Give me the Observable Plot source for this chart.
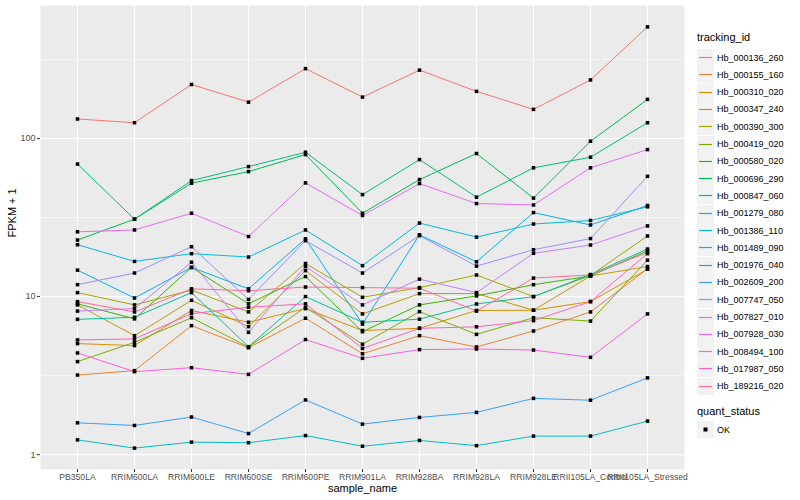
<!DOCTYPE html>
<html>
<head>
<meta charset="utf-8">
<script src="https://cdn.jsdelivr.net/npm/d3@7"></script>
<script src="https://cdn.jsdelivr.net/npm/@observablehq/plot@0.6"></script>
<style>
  html, body { margin: 0; padding: 0; background: #fff; }
  #wrap { position: relative; width: 800px; height: 500px; font-family: "Liberation Sans", Arial, sans-serif; }
  #legend { position: absolute; left: 697px; top: 0; font-size: 9px; color: #000; }
  .ltitle { position: absolute; left: 0; font-size: 11px; white-space: nowrap; }
  .lrow { position: absolute; left: 0; height: 17px; display: flex; align-items: center; white-space: nowrap; }
  .lrow svg { display: block; margin-right: 3px; }
</style>
</head>
<body>
<div id="wrap"><div id="chart"></div><div id="legend"></div></div>
<script>
const samples = ["PB350LA","RRIM600LA","RRIM600LE","RRIM600SE","RRIM600PE","RRIM901LA","RRIM928BA","RRIM928LA","RRIM928LE","RRII105LA_Control","RRII105LA_Stressed"];
const trackingIds = ["Hb_000136_260","Hb_000155_160","Hb_000310_020","Hb_000347_240","Hb_000390_300","Hb_000419_020","Hb_000580_020","Hb_000696_290","Hb_000847_060","Hb_001279_080","Hb_001386_110","Hb_001489_090","Hb_001976_040","Hb_002609_200","Hb_007747_050","Hb_007827_010","Hb_007928_030","Hb_008494_100","Hb_017987_050","Hb_189216_020"];

// FPKM + 1 per sample, one array per tracking_id
const Hb_000136_260 = [133,126,220,170,277,183,271,199,153,235,509];
const Hb_000155_160 = [3.19,3.4,6.55,4.75,7.3,4.35,5.66,4.8,6.06,8.0,15.0];
const Hb_000310_020 = [5.04,4.9,8.17,6.88,8.4,6.1,6.3,8.17,8.2,9.3,14.9];
const Hb_000347_240 = [8.86,5.66,9.47,6.46,14.6,7.77,10.45,10.45,8.2,13.5,15.5];
const Hb_000390_300 = [10.6,8.86,11.0,8.0,16.2,9.9,11.4,13.7,10.0,13.6,24.2];
const Hb_000419_020 = [3.88,5.14,7.35,4.8,8.56,5.0,8.03,5.77,7.35,7.0,17.0];
const Hb_000580_020 = [9.0,7.23,15.3,9.0,13.4,6.0,8.86,10.1,11.9,13.5,19.5];
const Hb_000696_290 = [22.8,30.9,52.2,61.8,79.2,33.7,55,80.4,42,96.2,177];
const Hb_000847_060 = [69,30.9,54.2,66.5,81.9,44.2,73.6,42.6,65.3,76.2,126];
const Hb_001279_080 = [7.18,7.4,10.6,4.82,10.0,6.88,7.2,8.98,10.0,13.8,20.0];
const Hb_001386_110 = [1.24,1.10,1.20,1.19,1.32,1.13,1.23,1.14,1.31,1.31,1.63];
const Hb_001489_090 = [21.3,16.7,18.7,17.8,26.4,15.7,29.2,23.8,28.8,30.3,37.0];
const Hb_001976_040 = [14.7,9.8,15.3,11.2,23.2,6.7,24.6,16.6,34.0,28.4,37.7];
const Hb_002609_200 = [1.59,1.53,1.73,1.36,2.22,1.56,1.72,1.85,2.27,2.21,3.06];
const Hb_007747_050 = [11.9,14.1,20.7,9.6,22.6,14.1,24.3,15.6,19.8,23.3,57.7];
const Hb_007827_010 = [8.1,8.4,16.5,5.94,15.5,8.86,12.9,10.6,18.8,21.2,28.0];
const Hb_007928_030 = [25.7,26.4,33.7,24.0,52.4,32.6,51.9,38.8,38.0,65.3,85.2];
const Hb_008494_100 = [4.4,3.35,3.55,3.22,5.35,4.07,4.62,4.66,4.59,4.13,7.77];
const Hb_017987_050 = [5.32,5.4,7.8,8.56,9.0,4.7,6.3,6.44,7.05,9.3,18.7];
const Hb_189216_020 = [9.3,8.0,11.2,10.9,11.5,11.4,11.3,8.1,13.1,13.7,19.0];

const seriesValues = [Hb_000136_260,Hb_000155_160,Hb_000310_020,Hb_000347_240,Hb_000390_300,Hb_000419_020,Hb_000580_020,Hb_000696_290,Hb_000847_060,Hb_001279_080,Hb_001386_110,Hb_001489_090,Hb_001976_040,Hb_002609_200,Hb_007747_050,Hb_007827_010,Hb_007928_030,Hb_008494_100,Hb_017987_050,Hb_189216_020];

const majorTicks = [1, 10, 100];
const minorTicks = [Math.pow(10, 0.5), Math.pow(10, 1.5), Math.pow(10, 2.5)];
const quantStatus = ["OK"];

// ggplot2 hue palette (polar CIE-LUV, like R's hcl())
function hclLuv(h, c, l) {
  const Xn = 95.047, Yn = 100, Zn = 108.883;
  const un = 4 * Xn / (Xn + 15 * Yn + 3 * Zn), vn = 9 * Yn / (Xn + 15 * Yn + 3 * Zn);
  const hr = h * Math.PI / 180;
  const U = c * Math.cos(hr), V = c * Math.sin(hr);
  const Y = l > 8 ? Yn * Math.pow((l + 16) / 116, 3) : Yn * l / 903.3;
  const up = U / (13 * l) + un, vp = V / (13 * l) + vn;
  const X = 9 * Y * up / (4 * vp);
  const Z = -X / 3 - 5 * Y + 3 * Y / vp;
  const x = X / 100, y = Y / 100, z = Z / 100;
  const lin = [
    3.240479 * x - 1.537150 * y - 0.498535 * z,
    -0.969256 * x + 1.875992 * y + 0.041556 * z,
    0.055648 * x - 0.204043 * y + 1.057311 * z
  ];
  const g = lin.map(u => {
    const v = u <= 0.0031308 ? 12.92 * u : 1.055 * Math.pow(u, 1 / 2.4) - 0.055;
    return Math.round(Math.max(0, Math.min(1, v)) * 255);
  });
  return d3.rgb(g[0], g[1], g[2]).formatHex();
}
const n = trackingIds.length;
const colors = trackingIds.map((_, i) => hclLuv(15 + 360 * i / n, 100, 65));

const rows = trackingIds.flatMap((id, i) => samples.map((s, j) => ({id, sample: s, value: seriesValues[i][j], status: "OK"})));

const font = "Liberation Sans, Arial, sans-serif";
const chart = Plot.plot({
  width: 800,
  height: 500,
  marginLeft: 40,
  marginRight: 116,
  marginTop: 5,
  marginBottom: 31,
  style: {fontFamily: font, background: "white"},
  x: {type: "point", domain: samples, padding: 0.6, label: null},
  y: {type: "log", domain: [Math.pow(10, -0.094), Math.pow(10, 2.842)], label: null},
  color: {domain: trackingIds, range: colors, legend: false},
  marks: [
    Plot.frame({fill: "#EBEBEB", stroke: "none"}),
    Plot.ruleY(minorTicks, {stroke: "white", strokeWidth: 0.55}),
    Plot.ruleY(majorTicks, {stroke: "white", strokeWidth: 1.1}),
    Plot.ruleX(samples, {x: d => d, stroke: "white", strokeWidth: 1.1}),
    Plot.line(rows, {x: "sample", y: "value", z: "id", stroke: "id", strokeWidth: 1}),
    Plot.dot(rows, {x: "sample", y: "value", symbol: "square", fill: "black", r: 2}),
    Plot.axisY({ticks: majorTicks, tickFormat: d => String(d), tickSize: 3, tickPadding: 2, fontSize: 9, color: "#4D4D4D", stroke: "#333", label: null}),
    Plot.axisX({tickSize: 3, tickPadding: 1, fontSize: 8.6, color: "#4D4D4D", stroke: "#333", label: null}),
    Plot.text(["sample_name"], {frameAnchor: "bottom", dy: 22, fontSize: 11, fill: "#000"}),
    Plot.text(["FPKM + 1"], {frameAnchor: "left", dx: -28, rotate: -90, fontSize: 11, fill: "#000"})
  ]
});
document.getElementById("chart").appendChild(chart);

// legend
const leg = document.getElementById("legend");
const t1 = document.createElement("div");
t1.className = "ltitle"; t1.style.top = "31px"; t1.textContent = "tracking_id";
leg.appendChild(t1);
trackingIds.forEach((id, i) => {
  const r = document.createElement("div");
  r.className = "lrow";
  r.style.top = (49 + i * 17.3) + "px";
  r.innerHTML = `<svg width="17" height="17"><rect width="17" height="17" fill="#F2F2F2"/><line x1="2" x2="15" y1="8.5" y2="8.5" stroke="${colors[i]}" stroke-width="1.2"/></svg><span>${id}</span>`;
  leg.appendChild(r);
});
const t2 = document.createElement("div");
t2.className = "ltitle"; t2.style.top = "405px"; t2.textContent = "quant_status";
leg.appendChild(t2);
quantStatus.forEach((s, i) => {
  const r = document.createElement("div");
  r.className = "lrow";
  r.style.top = (421 + i * 17.3) + "px";
  r.innerHTML = `<svg width="17" height="17"><rect width="17" height="17" fill="#F2F2F2"/><rect x="6.5" y="6.5" width="4" height="4" fill="black"/></svg><span>${s}</span>`;
  leg.appendChild(r);
});
</script>
</body>
</html>
